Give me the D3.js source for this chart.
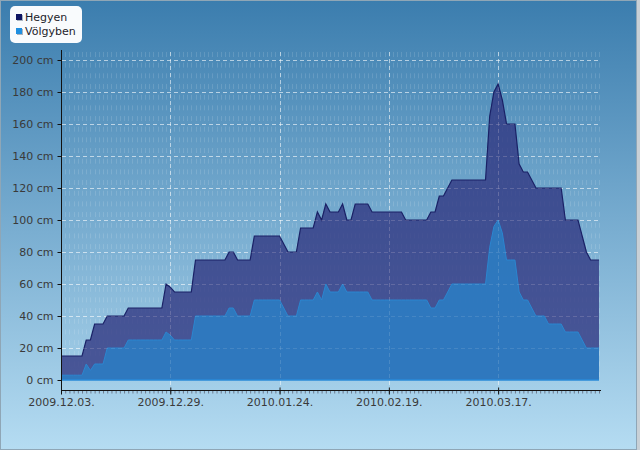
<!DOCTYPE html>
<html>
<head>
<meta charset="utf-8">
<script src="https://cdn.jsdelivr.net/npm/d3@7/dist/d3.min.js"></script>
<style>
  html, body { margin: 0; padding: 0; background: #fff; }
  svg { display: block; }
  text { font-family: "DejaVu Sans", Verdana, sans-serif; }
</style>
</head>
<body>
<svg id="chart" width="640" height="450"></svg>
<script>
// ---- data ----
const startDate = "2009-12-03";
const endDate = "2010-04-10";
const seriesNames = ["Hegyen", "Völgyben"];
const tickLabels = ["2009.12.03.", "2009.12.29.", "2010.01.24.", "2010.02.19.", "2010.03.17."];
const yTicks = [0, 20, 40, 60, 80, 100, 120, 140, 160, 180, 200];

// daily values (cm), from 2009.12.03.
const hegyen = [
  15,15,15,15,15,15, 25,25, 35,35,35, 40,40,40,40,40,
  45,45,45,45,45,45,45,45,45, 60,58, 55,55,55,55,55,
  75,75,75,75,75,75,75,75, 80,80, 75,75,75,75,
  90,90,90,90,90,90,90, 85, 80,80,80, 95,95,95,95,
  105,100,110,105,105,105,110,100,100,110,110,110,110,
  105,105,105,105,105,105,105,105, 100,100,100,100,100,100,
  105,105, 115,115, 120, 125,125,125,125,125,125,125,125,125,
  165,180,185,175, 160,160,160, 135, 130,130, 125,
  120,120,120,120,120,120,120, 100,100,100,100, 90, 80, 75,75,75
];
const volgyben = [
  3,3,3,3,3,3, 10,6,10,10,10, 20,20,20,20,20,
  25,25,25,25,25,25,25,25,25, 30,28, 25,25,25,25,25,
  40,40,40,40,40,40,40,40, 45,45, 40,40,40,40,
  50,50,50,50,50,50,50, 45, 40,40,40, 50,50,50,50,
  55,50,60,55,55,55,60,55,55,55,55,55,55,
  50,50,50,50,50,50,50,50,50,50,50,50,50,50,
  45,45, 50,50, 55, 60,60,60,60,60,60,60,60,60,
  83,96,100,92, 75,75,75, 55, 50,50, 45,
  40,40,40, 35,35,35,35, 30,30,30,30, 25, 20,20,20,20
];

// ---- chart ----
const W = 640, H = 450;
const svg = d3.select("#chart");
const parse = d3.utcParse("%Y-%m-%d");
const t0 = parse(startDate), t1 = parse(endDate);
const dates = hegyen.map((_, i) => d3.utcDay.offset(t0, i));
const rows = dates.map((d, i) => ({ date: d, h: hegyen[i], v: volgyben[i] }));

const x = d3.scaleUtc().domain([t0, t1]).range([61, 599]);
const y = d3.scaleLinear().domain([-6.25, 206.25]).range([390, 50]);

// background
const defs = svg.append("defs");
const bg = defs.append("linearGradient").attr("id", "bg").attr("x1", 0).attr("y1", 0).attr("x2", 0).attr("y2", 1);
bg.append("stop").attr("offset", "0%").attr("stop-color", "#3b7dae");
bg.append("stop").attr("offset", "100%").attr("stop-color", "#b5dcf2");
svg.append("rect").attr("x", 0).attr("y", 0).attr("width", W).attr("height", H).attr("fill", "url(#bg)");
svg.append("rect").attr("x", 637).attr("y", 0).attr("width", 3).attr("height", H).attr("fill", "#c8d0d6");
svg.append("rect").attr("x", 0.5).attr("y", 0.5).attr("width", 636).attr("height", H - 1)
  .attr("fill", "none").attr("stroke", "#8fa6b6").attr("stroke-width", 1);

const tickDates = tickLabels.map(s => d3.utcParse("%Y.%m.%d.")(s));

// minor daily grid
const gMinor = svg.append("g");
gMinor.selectAll("line").data(dates).join("line")
  .attr("x1", d => Math.round(x(d)) + 0.5).attr("x2", d => Math.round(x(d)) + 0.5)
  .attr("y1", 52).attr("y2", 380)
  .attr("stroke", "#ffffff").attr("stroke-opacity", 0.13)
  .attr("stroke-dasharray", "5,5.67");

// horizontal grid
const gGrid = svg.append("g");
gGrid.selectAll("line").data(yTicks.filter(v => v > 0)).join("line")
  .attr("x1", 62).attr("x2", 600)
  .attr("y1", d => Math.round(y(d)) + 0.5).attr("y2", d => Math.round(y(d)) + 0.5)
  .attr("stroke", "#ffffff").attr("stroke-opacity", 0.55)
  .attr("stroke-dasharray", "4,3");
// vertical major grid
gGrid.selectAll("line.v").data(tickDates.slice(1)).join("line").attr("class", "v")
  .attr("x1", d => Math.round(x(d)) + 0.5).attr("x2", d => Math.round(x(d)) + 0.5)
  .attr("y1", 52).attr("y2", 390)
  .attr("stroke", "#ffffff").attr("stroke-opacity", 0.5)
  .attr("stroke-dasharray", "4,3");

// areas
const areaH = d3.area().x(d => x(d.date)).y0(y(0)).y1(d => y(d.h));
const lineH = d3.line().x(d => x(d.date)).y(d => y(d.h));
const areaV = d3.area().x(d => x(d.date)).y0(y(0)).y1(d => y(d.v));
const lineV = d3.line().x(d => x(d.date)).y(d => y(d.v));

svg.append("path").datum(rows).attr("d", areaH)
  .attr("fill", "rgb(48,52,128)").attr("fill-opacity", 0.78);
svg.append("path").datum(rows).attr("d", lineH)
  .attr("fill", "none").attr("stroke", "#1a2166").attr("stroke-width", 1.2);
svg.append("path").datum(rows).attr("d", areaV)
  .attr("fill", "rgb(44,124,194)").attr("fill-opacity", 0.9);
svg.append("path").datum(rows).attr("d", lineV)
  .attr("fill", "none").attr("stroke", "#2b86d0").attr("stroke-width", 1);
svg.append("line").attr("x1", x(t0)).attr("x2", x(t1)).attr("y1", y(0)).attr("y2", y(0))
  .attr("stroke", "#2a8ad8").attr("stroke-width", 1.5);

// faint grid over areas
const gGrid2 = svg.append("g");
gGrid2.selectAll("line").data(yTicks.filter(v => v > 0)).join("line")
  .attr("x1", 62).attr("x2", 600)
  .attr("y1", d => Math.round(y(d)) + 0.5).attr("y2", d => Math.round(y(d)) + 0.5)
  .attr("stroke", "#ffffff").attr("stroke-opacity", 0.1)
  .attr("stroke-dasharray", "4,3");
gGrid2.selectAll("line.v").data(tickDates.slice(1)).join("line").attr("class", "v")
  .attr("x1", d => Math.round(x(d)) + 0.5).attr("x2", d => Math.round(x(d)) + 0.5)
  .attr("y1", 52).attr("y2", 380)
  .attr("stroke", "#ffffff").attr("stroke-opacity", 0.12)
  .attr("stroke-dasharray", "4,3");

// y axis
const yAxis = d3.axisLeft(y).tickValues(yTicks).tickSize(4).tickPadding(4)
  .tickFormat(d => d + " cm");
const gy = svg.append("g").attr("transform", "translate(61.5,0)").call(yAxis);
gy.select(".domain").remove();
gy.append("line").attr("x1", 0).attr("x2", 0).attr("y1", 50).attr("y2", 391).attr("stroke", "#111");
gy.selectAll(".tick line").attr("stroke", "#111");
gy.selectAll(".tick text").attr("fill", "#3a3a3a").style("font-size", "11px")
  .style("font-family", "'DejaVu Sans', Verdana, sans-serif");

// x axis minor ticks
const gxMinor = svg.append("g").attr("transform", "translate(0,390.5)")
  .call(d3.axisBottom(x).tickValues(dates).tickSize(3).tickFormat(""));
gxMinor.select(".domain").remove();
gxMinor.selectAll(".tick line").attr("stroke", "#556").attr("stroke-opacity", 0.7);

// x axis major
const xAxis = d3.axisBottom(x).tickValues(tickDates).tickSize(4).tickPadding(4)
  .tickFormat((d, i) => tickLabels[i]);
const gx = svg.append("g").attr("transform", "translate(0,390.5)").call(xAxis);
gx.select(".domain").remove();
gx.append("line").attr("x1", 61).attr("x2", 601).attr("y1", 0).attr("y2", 0).attr("stroke", "#111");
gx.selectAll(".tick line").attr("stroke", "#111").attr("y1", -3);
gx.selectAll(".tick text").attr("fill", "#3a3a3a").style("font-size", "11px")
  .style("font-family", "'DejaVu Sans', Verdana, sans-serif");

// legend
const lg = svg.append("g");
lg.append("rect").attr("x", 10).attr("y", 6).attr("width", 72).attr("height", 37).attr("rx", 5)
  .attr("fill", "#ffffff").attr("fill-opacity", 0.97);
const legendColors = ["#0f1663", "#1f8fe0"];
seriesNames.forEach((name, i) => {
  const yy = 14 + i * 14;
  lg.append("rect").attr("x", 17).attr("y", yy + 1).attr("width", 6).attr("height", 6).attr("fill", "#a9b4c0");
  lg.append("rect").attr("x", 16).attr("y", yy).attr("width", 6).attr("height", 6).attr("fill", legendColors[i]);
  lg.append("text").attr("x", 25).attr("y", yy + 6.5).text(name)
    .attr("fill", "#1d1d2b").style("font-size", "11px");
});
</script>
</body>
</html>
